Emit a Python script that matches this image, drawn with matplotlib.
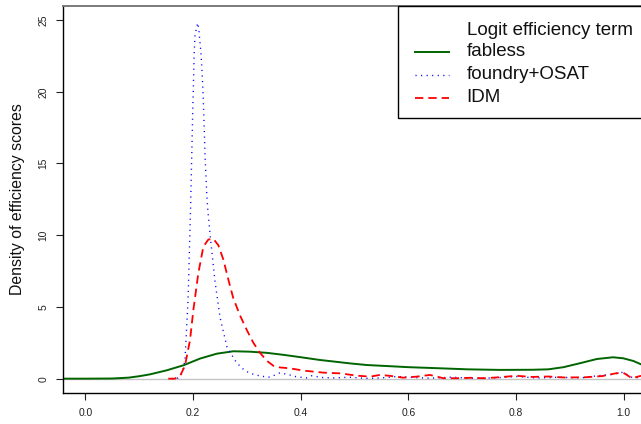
import matplotlib
matplotlib.use("Agg")
import matplotlib.pyplot as plt
from matplotlib.lines import Line2D
from matplotlib.patches import Rectangle

plt.rcParams['font.family'] = ['Liberation Sans', 'DejaVu Sans']
plt.rcParams['lines.scale_dashes'] = False

# ---- data ----
fabless_x = [-0.041, 0.0, 0.05, 0.08, 0.10, 0.12, 0.151, 0.182, 0.213, 0.244, 0.275,
             0.306, 0.337, 0.368, 0.399, 0.436, 0.46, 0.49, 0.523, 0.565, 0.60, 0.646,
             0.71, 0.77, 0.83, 0.86, 0.888, 0.918, 0.95, 0.98, 0.999, 1.018, 1.032]
fabless_y = [0.0, 0.0, 0.01, 0.07, 0.17, 0.30, 0.58, 0.93, 1.40, 1.74, 1.91,
             1.88, 1.80, 1.66, 1.50, 1.30, 1.20, 1.07, 0.95, 0.87, 0.80, 0.74,
             0.65, 0.61, 0.62, 0.65, 0.80, 1.07, 1.37, 1.49, 1.42, 1.23, 1.00]

foundry_x = [0.16, 0.172, 0.18, 0.185, 0.1907, 0.1957, 0.1968, 0.1981, 0.1994, 0.2006,
             0.2019, 0.2037, 0.2069, 0.2087, 0.2106, 0.2124, 0.2143, 0.2167, 0.2186,
             0.2199, 0.2223, 0.2254, 0.2273, 0.232, 0.241, 0.25, 0.263, 0.281, 0.295,
             0.306, 0.325, 0.343, 0.361, 0.375, 0.39, 0.41, 0.42, 0.44, 0.46, 0.49,
             0.52, 0.55, 0.58, 0.61, 0.64, 0.68, 0.72, 0.76, 0.80, 0.84, 0.88, 0.92,
             0.95, 0.975, 0.999, 1.015, 1.032]
foundry_y = [0.0, 0.05, 0.4, 1.3, 5.5, 12.3, 14.3, 16.4, 18.7, 20.3,
             22.5, 24.0, 24.5, 24.8, 24.4, 23.6, 22.9, 21.4, 19.9,
             18.5, 15.5, 12.9, 11.8, 9.9, 6.7, 4.3, 2.2, 1.1, 0.6,
             0.37, 0.18, 0.10, 0.40, 0.30, 0.15, 0.05, 0.20, 0.08, 0.05, 0.10,
             0.02, 0.05, 0.15, 0.08, 0.03, 0.10, 0.03, 0.05, 0.15, 0.05, 0.10, 0.05,
             0.20, 0.28, 0.45, 0.10, 0.05]

idm_x = [0.154, 0.166, 0.176, 0.185, 0.1944, 0.2006, 0.2098, 0.2191, 0.2284, 0.2377,
         0.247, 0.2563, 0.2656, 0.2748, 0.2873, 0.2997, 0.312, 0.3244, 0.3369, 0.3491,
         0.3616, 0.38, 0.405, 0.442, 0.473, 0.504, 0.529, 0.547, 0.565, 0.59, 0.615,
         0.64, 0.665, 0.69, 0.715, 0.74, 0.77, 0.80, 0.83, 0.86, 0.89, 0.93, 0.96,
         0.985, 0.999, 1.015, 1.032]
idm_y = [0.0, 0.0, 0.2, 0.9, 2.7, 4.8, 7.35, 9.2, 9.7, 9.75,
         9.3, 8.3, 6.9, 5.6, 4.4, 3.4, 2.5, 1.8, 1.25, 0.9,
         0.78, 0.72, 0.56, 0.42, 0.37, 0.21, 0.14, 0.26, 0.20, 0.07, 0.14,
         0.26, 0.03, 0.03, 0.06, 0.03, 0.10, 0.20, 0.12, 0.15, 0.08, 0.10, 0.18,
         0.37, 0.42, 0.03, 0.20]

series_labels = ["fabless", "foundry+OSAT", "IDM"]
legend_title = "Logit efficiency term"
x_ticks = [0.0, 0.2, 0.4, 0.6, 0.8, 1.0]
x_tick_labels = ["0.0", "0.2", "0.4", "0.6", "0.8", "1.0"]
y_ticks = [0, 5, 10, 15, 20, 25]
y_label = "Density of efficiency scores"

# ---- figure ----
W, H = 641, 424
fig = plt.figure(figsize=(W / 100, H / 100), dpi=100)
left, right, top, bottom = 63.3, 641.0, 5.7, 393.0
ax = fig.add_axes([left / W, 1 - bottom / H, (right - left) / W, (bottom - top) / H])
ax.set_xlim(-0.041, 1.032)
ax.set_ylim(-1.0, 26.0)

ax.axhline(0, color='#c4c4c4', lw=1.0, zorder=1)

green = '#006400'
dot_style = (0, (0.8, 3.2))
dash_style = (0, (6.0, 3.6))
l1, = ax.plot(fabless_x, fabless_y, color=green, lw=1.4, zorder=2)
l2, = ax.plot(foundry_x, foundry_y, color='blue', lw=1.0, linestyle=dot_style, zorder=3)
l3, = ax.plot(idm_x, idm_y, color='red', lw=1.3, linestyle=dash_style, zorder=4)

ax.spines['right'].set_visible(False)
ax.spines['top'].set_color('#707070')
ax.spines['top'].set_linewidth(1.3)
ax.spines['left'].set_color('black')
ax.spines['bottom'].set_color('black')
ax.spines['left'].set_linewidth(1.0)
ax.spines['bottom'].set_linewidth(1.0)

ax.set_xticks(x_ticks)
ax.set_xticklabels(x_tick_labels)
ax.set_yticks(y_ticks)
ax.set_yticklabels([str(v) for v in y_ticks], rotation=90, va='center')
ax.tick_params(axis='both', direction='out', length=5.0, width=0.8, labelsize=7.4,
               labelcolor='#222222', color='#222222')
ax.tick_params(axis='x', pad=5.5)
ax.tick_params(axis='y', pad=5.5)

fig.text(18 / W, 1 - 199.3 / H, y_label, rotation=90, ha='center', va='center',
         fontsize=11.4, color='#111111')

# ---- legend (drawn manually in figure pixels) ----
def fx(px):
    return px / W

def fy(py):
    return 1 - py / H

box = Rectangle((fx(398.3), fy(118.3)), fx(660) - fx(398.3), fy(5.7) - fy(118.3),
                transform=fig.transFigure, fill=True, facecolor='white',
                edgecolor='black', lw=1.0, zorder=10, clip_on=False)
fig.add_artist(box)
fig.text(fx(466.7), fy(30.5), legend_title, ha='left', va='center', fontsize=13.5,
         color='#111111', zorder=11)
entry_y = [51.5, 74.5, 97.5]
handles = [l1, l2, l3]
styles = ['-', dot_style, dash_style]
for yy, lab, h, st in zip(entry_y, series_labels, handles, styles):
    ln = Line2D([fx(415), fx(449)], [fy(yy), fy(yy)], transform=fig.transFigure,
                color=h.get_color(), lw=h.get_linewidth(), linestyle=st, zorder=11)
    fig.add_artist(ln)
    fig.text(fx(466.7), fy(yy), lab, ha='left', va='center', fontsize=13.5,
             color='#111111', zorder=11)

fig.savefig("out.png", dpi=100)
